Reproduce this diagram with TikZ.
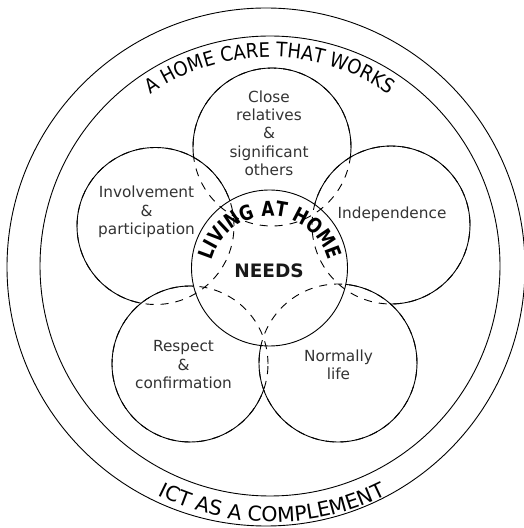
\documentclass[tikz,border=0pt]{standalone}
\usepackage{fontspec}
\setmainfont{DejaVu Sans}
\newfontfamily\ringfont[FakeStretch=0.9]{DejaVu Sans}
\newfontfamily\condbold[FakeStretch=0.82]{DejaVu Sans Bold}
\usetikzlibrary{decorations.text,calc}
\newcommand\petalfont{\fontsize{15.3}{18.3}\selectfont}
\newcommand\ringtopfont{\ringfont\fontsize{20}{24}\selectfont}
\newcommand\ringbotfont{\fontsize{20.5}{24}\selectfont}
\newcommand\livingfont{\condbold\fontsize{20.5}{24}\selectfont}
\newcommand\needsfont{\bfseries\fontsize{18.5}{20}\selectfont}

\begin{document}
\begin{tikzpicture}[x=1pt,y=1pt,
  ring/.style={draw=black, line width=0.9pt},
  petal/.style={draw=black, fill=white, line width=0.9pt},
  hidden/.style={draw=black, line width=0.9pt, dash pattern=on 8pt off 7pt},
  petaltext/.style={font=\petalfont, text=black!80, align=center, inner sep=0pt}]
\useasboundingbox (0,0) rectangle (524,528);

% centres of the rings and circles
\coordinate (outer) at (266,261);
\coordinate (inner) at (270,262);
\coordinate (needs) at (269.5,260);
\coordinate (cT)  at (272,381);
\coordinate (cL)  at (155.5,302);
\coordinate (cR)  at (391,303);
\coordinate (cBL) at (190,164);
\coordinate (cBR) at (338,165);

% the two surrounding rings
\draw[ring] (outer) circle[radius=259];
\draw[ring] (inner) circle[radius=230];

% petals, stacked back to front, then the centre on top
\foreach \c/\r in {cT/79, cL/78.5, cR/79, cBL/78, cBR/79}
  \draw[petal] (\c) circle[radius=\r];
\draw[petal] (needs) circle[radius=78];

% covered outlines shown dashed
\foreach \c/\r in {cT/79, cL/78.5, cR/79, cBL/78, cBR/79}
  \draw[hidden] (\c) circle[radius=\r];

% ring captions
\path[decorate, decoration={text along path,
    text={|\ringtopfont|A HOME CARE THAT WORKS}, text align=center}]
  ($(inner)+(150:209)$) arc[start angle=150, end angle=30, radius=209];
\path[decorate, decoration={text along path,
    text={|\ringbotfont|ICT AS A COMPLEMENT}, text align=center}]
  ($(272,261)+(236:255)$) arc[start angle=236, end angle=304, radius=255];

% centre captions
\path[decorate, decoration={text along path,
    text={|\livingfont|LIVING AT HOME}, text align=center}]
  ($(270,252)+(172:60)$) arc[start angle=172, end angle=8, radius=60];
\node[font=\needsfont, text=black!90, inner sep=0pt] (needstext) at (269,257) {NEEDS};

% petal captions
\node[petaltext] (tlabel)  at (269,395)    {Close\\relatives\\\&\\significant\\others};
\node[petaltext] (llabel)  at (146.5,316)  {Involvement\\\&\\participation};
\node[petaltext] (rlabel)  at (392,314)    {Independence};
\node[petaltext] (bllabel) at (183.5,163.3){Respect\\\&\\confirmation};
\node[petaltext] (brlabel) at (338.5,163)  {Normally\\life};
\end{tikzpicture}
\end{document}
